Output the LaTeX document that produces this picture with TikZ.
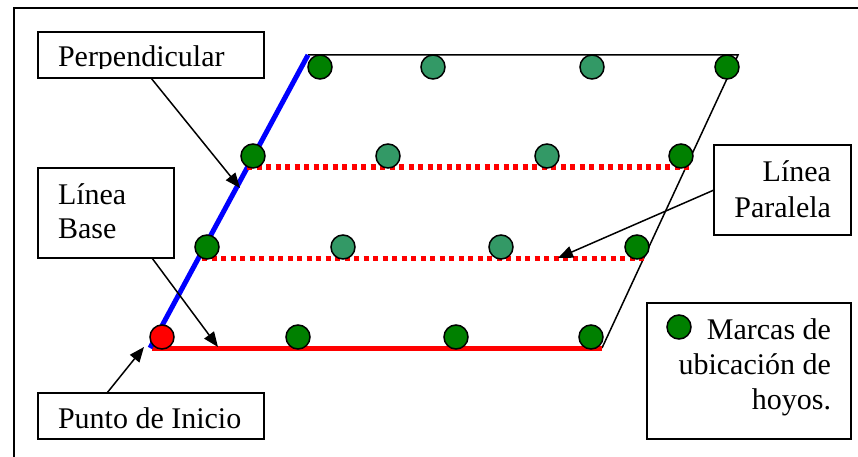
\documentclass[tikz,border=0pt]{standalone}
\usepackage{fontspec}
\setmainfont{Liberation Serif}
\usetikzlibrary{arrows.meta}
\definecolor{dgreen}{RGB}{0,128,0}
\definecolor{lgreen}{RGB}{51,153,102}
\begin{document}
\begin{tikzpicture}[x=1pt,y=-1pt,
  box/.style={draw,line width=1.5pt,rectangle,inner sep=0pt,outer sep=0pt},
  txt/.style={inner sep=0pt,outer sep=0pt,font=\fontsize{30}{35}\selectfont},
  hole/.style={circle,draw,line width=1.5pt,fill=#1,minimum size=24pt,inner sep=0pt},
  arr/.style={line width=1.5pt,-{Triangle[length=15pt,width=12pt]}},
  dotline/.style={red,line width=5pt,dash pattern=on 5pt off 4.5pt}]
\useasboundingbox (0,0) rectangle (858,457);
\begin{scope}
  \clip (0,0) rectangle (858,457);
  \draw[line width=1.5pt] (14,8) rectangle (900,500);
\end{scope}
% parallelogram lines
\coordinate (tl) at (308,55);
\coordinate (tr) at (738,55);
\coordinate (bl) at (150,348);
\coordinate (br) at (602,348);
\draw[line width=1.5pt] (tl) -- (tr) -- (br);
\draw[red,line width=5pt] (152,348) -- (br);
\draw[blue,line width=5pt] (bl) -- (tl);
\draw[dotline] (247,167) -- (693,167);
\draw[dotline] (202,258) -- (647,258);
% holes
\node[hole=dgreen] (a1) at (320,67) {};
\node[hole=lgreen] (a2) at (433,67) {};
\node[hole=lgreen] (a3) at (592,67) {};
\node[hole=dgreen] (a4) at (727,67) {};
\node[hole=dgreen] (b1) at (253,156) {};
\node[hole=lgreen] (b2) at (388,156) {};
\node[hole=lgreen] (b3) at (547,156) {};
\node[hole=dgreen] (b4) at (681,156) {};
\node[hole=dgreen] (c1) at (207,247) {};
\node[hole=lgreen] (c2) at (343,247) {};
\node[hole=lgreen] (c3) at (501,247) {};
\node[hole=dgreen] (c4) at (637,247) {};
\node[hole=red]    (d1) at (162,337) {};
\node[hole=dgreen] (d2) at (298,337) {};
\node[hole=dgreen] (d3) at (456,337) {};
\node[hole=dgreen] (d4) at (591,337) {};
% boxes
\node[box,minimum width=226pt,minimum height=46pt] (perp) at (151,55) {};
\node[box,minimum width=136pt,minimum height=90pt] (base) at (106,213) {};
\node[box,minimum width=226pt,minimum height=46pt] (punto) at (151,416) {};
\node[box,minimum width=137pt,minimum height=90pt] (para) at (782.5,190) {};
\node[box,minimum width=204pt,minimum height=136pt] (leg) at (749,371) {};
% texts
\begin{scope}
  \clip (39,33) rectangle (263,68.5);
  \node[txt,anchor=base west] (tperp) at (58,67) {Perpendicular};
\end{scope}
\node[txt,anchor=base west] (tbase1) at (58,204) {Línea};
\node[txt,anchor=base west] (tbase2) at (58,238) {Base};
\begin{scope}
  \clip (39,394) rectangle (263,428.5);
  \node[txt,anchor=base west] (tpunto) at (58,428) {Punto de Inicio};
\end{scope}
\node[txt,anchor=base east] (tpara1) at (831,182) {Línea};
\node[txt,anchor=base east] (tpara2) at (831,217) {Paralela};
\node[hole=dgreen] (lgc) at (679,327) {};
\node[txt,anchor=base east] (tleg1) at (831,339) {Marcas de};
\node[txt,anchor=base east] (tleg2) at (831,374) {ubicación de};
\node[txt,anchor=base east] (tleg3) at (831,409) {hoyos.};
% arrows
\coordinate (perptip) at (240,188);
\coordinate (basetip) at (218,347);
\coordinate (puntotip) at (144,347);
\coordinate (paratip) at (558,258);
\path (base.south) ++(46,0) coordinate (basestart);
\path (punto.north) ++(-44,0) coordinate (puntostart);
\draw[arr] (perp.south) -- (perptip);
\draw[arr] (basestart) -- (basetip);
\draw[arr] (puntostart) -- (puntotip);
\draw[arr] (para.west) -- (paratip);
\end{tikzpicture}
\end{document}
